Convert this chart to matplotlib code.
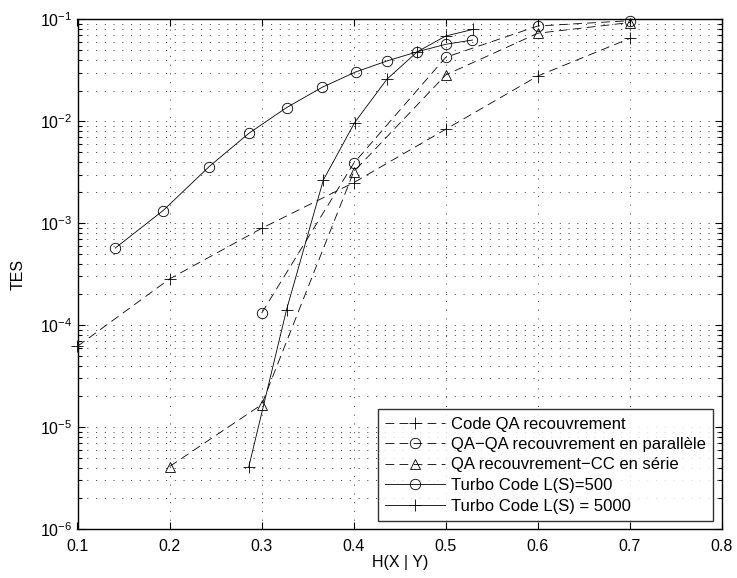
import matplotlib
matplotlib.use("Agg")
import matplotlib.pyplot as plt
from matplotlib.ticker import LogLocator, MultipleLocator, NullFormatter

plt.rcParams['font.family'] = ['Liberation Sans', 'DejaVu Sans']
plt.rcParams['lines.scale_dashes'] = False

# Data
x_qa = [0.1, 0.2, 0.3, 0.4, 0.5, 0.6, 0.7]
y_qa = [6.2e-5, 2.84e-4, 8.9e-4, 2.5e-3, 8.35e-3, 0.0278, 0.065]

x_par = [0.3, 0.4, 0.5, 0.6, 0.7]
y_par = [1.31e-4, 3.87e-3, 0.0424, 0.086, 0.097]

x_ser = [0.2, 0.3, 0.4, 0.5, 0.6, 0.7]
y_ser = [4.1e-6, 1.66e-5, 3.2e-3, 0.0285, 0.073, 0.093]

x_t500 = [0.141, 0.193, 0.243, 0.286, 0.327, 0.366, 0.402, 0.436, 0.469, 0.500, 0.529]
y_t500 = [5.7e-4, 1.33e-3, 3.59e-3, 7.6e-3, 0.0136, 0.0216, 0.0304, 0.039, 0.048, 0.0569, 0.0626]

x_t5000 = [0.286, 0.327, 0.367, 0.401, 0.436, 0.469, 0.500, 0.530]
y_t5000 = [4.06e-6, 1.41e-4, 2.65e-3, 9.7e-3, 0.0258, 0.048, 0.0686, 0.0798]

labels = ["Code QA recouvrement",
          "QA\u2212QA recouvrement en parallèle",
          "QA recouvrement\u2212CC en série",
          "Turbo Code L(S)=500",
          "Turbo Code L(S) = 5000"]

fig = plt.figure(figsize=(7.37, 5.78), dpi=100)
ax = fig.add_axes([77.5/737, 1-529/578, (722-77.5)/737, (529-19.3)/578])

dash = (0, (6.3, 3.8))
lw = 0.6
common = dict(color='black', linewidth=lw, markerfacecolor='none',
              markeredgecolor='black', markeredgewidth=0.6, clip_on=False)
ax.semilogy(x_qa, y_qa, linestyle=dash, marker='+', markersize=8, label=labels[0], **common)
ax.semilogy(x_par, y_par, linestyle=dash, marker='o', markersize=7.5, label=labels[1], **common)
ax.semilogy(x_ser, y_ser, linestyle=dash, marker='^', markersize=7.5, label=labels[2], **common)
ax.semilogy(x_t500, y_t500, linestyle='-', marker='o', markersize=7.5, label=labels[3], **common)
ax.semilogy(x_t5000, y_t5000, linestyle='-', marker='+', markersize=8, label=labels[4], **common)

ax.set_xlim(0.1, 0.8)
ax.set_ylim(1e-6, 1e-1)
ax.xaxis.set_major_locator(MultipleLocator(0.1))
ax.yaxis.set_major_locator(LogLocator(base=10, numticks=10))
ax.yaxis.set_minor_locator(LogLocator(base=10, subs=range(2, 10), numticks=10))
ax.yaxis.set_minor_formatter(NullFormatter())

gstyle = dict(linestyle=(0, (0.8, 5.5)), color='0.3', linewidth=0.7)
ax.grid(True, which='major', axis='both', **gstyle)
ax.grid(True, which='minor', axis='y', **gstyle)

ax.tick_params(which='both', direction='in', top=True, right=True, labelsize=11.5, width=0.8)
ax.tick_params(which='major', length=5)
ax.tick_params(which='minor', length=2.8)
ax.tick_params(axis='x', which='major', pad=7)
ax.tick_params(axis='y', which='major', pad=4)
for s in ax.spines.values():
    s.set_linewidth(1.0)

ax.set_xlabel("H(X | Y)", fontsize=11.5, labelpad=1)
ax.set_ylabel("TES", fontsize=11.5, labelpad=10)

leg = ax.legend(loc='lower right', bbox_to_anchor=((713.3-77.5)/(722-77.5), (529-521)/(529-19.3)),
                fontsize=12, frameon=True, fancybox=False, edgecolor='black',
                handlelength=3.6, handletextpad=0.35, labelspacing=0.33,
                borderpad=0.45, borderaxespad=0.0)
leg.get_frame().set_linewidth(1.0)

fig.savefig("out.png", dpi=100)
